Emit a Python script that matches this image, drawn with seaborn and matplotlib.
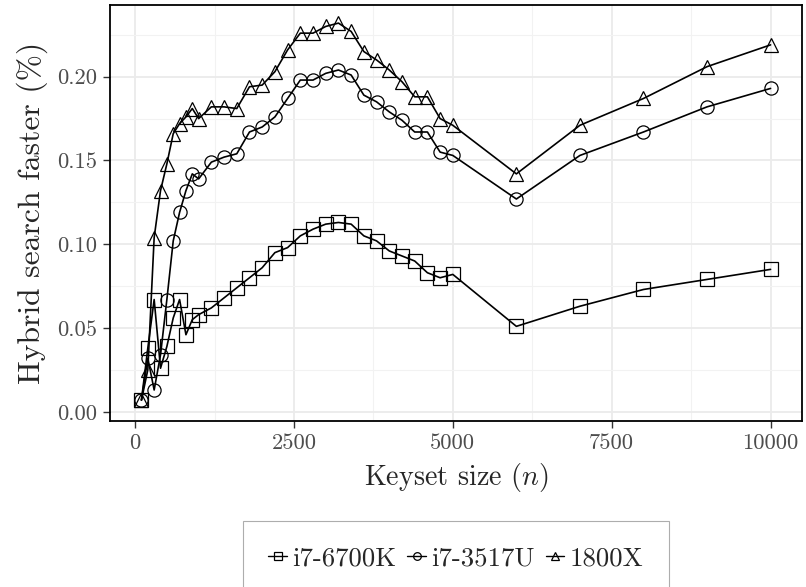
import numpy as np
import pandas as pd
import matplotlib
matplotlib.use("Agg")
import matplotlib.pyplot as plt
import seaborn as sns
from matplotlib.ticker import MultipleLocator, FormatStrFormatter

# ---- data ----
keyset = [100, 200, 300, 400, 500, 600, 700, 800, 900, 1000,
          1200, 1400, 1600, 1800, 2000, 2200, 2400, 2600, 2800, 3000,
          3200, 3400, 3600, 3800, 4000, 4200, 4400, 4600, 4800, 5000,
          6000, 7000, 8000, 9000, 10000]
i7_6700k = [0.007, 0.038, 0.067, 0.026, 0.039, 0.056, 0.067, 0.046, 0.055, 0.058,
            0.062, 0.068, 0.074, 0.080, 0.086, 0.095, 0.098, 0.105, 0.109, 0.112,
            0.113, 0.112, 0.105, 0.102, 0.096, 0.093, 0.090, 0.083, 0.080, 0.082,
            0.051, 0.063, 0.073, 0.079, 0.085]
i7_3517u = [0.007, 0.032, 0.013, 0.034, 0.067, 0.102, 0.119, 0.132, 0.142, 0.139,
            0.149, 0.152, 0.154, 0.167, 0.170, 0.176, 0.187, 0.198, 0.198, 0.202,
            0.204, 0.201, 0.189, 0.185, 0.179, 0.174, 0.167, 0.167, 0.155, 0.153,
            0.127, 0.153, 0.167, 0.182, 0.193]
r_1800x = [0.007, 0.025, 0.104, 0.132, 0.148, 0.166, 0.172, 0.176, 0.181, 0.175,
           0.182, 0.182, 0.181, 0.194, 0.195, 0.203, 0.216, 0.226, 0.226, 0.230,
           0.232, 0.227, 0.215, 0.210, 0.204, 0.197, 0.188, 0.188, 0.175, 0.171,
           0.142, 0.171, 0.187, 0.206, 0.219]
series_names = ["i7-6700K", "i7-3517U", "1800X"]
markers = ["s", "o", "^"]

df = pd.DataFrame({
    "n": keyset * 3,
    "val": i7_6700k + i7_3517u + r_1800x,
    "cpu": [series_names[0]] * len(keyset) + [series_names[1]] * len(keyset)
           + [series_names[2]] * len(keyset),
})

sns.set_theme(style="white")
plt.rcParams["font.family"] = ["cmr10"]
plt.rcParams["mathtext.fontset"] = "cm"
plt.rcParams["axes.unicode_minus"] = False
plt.rcParams["axes.formatter.use_mathtext"] = True

fig = plt.figure(figsize=(8.06, 5.87), dpi=100)
ax = fig.add_axes([110 / 806, 1 - 421 / 587, (802 - 110) / 806, (421 - 5) / 587])

sns.lineplot(data=df, x="n", y="val", style="cpu", markers=dict(zip(series_names, markers)),
             dashes=False, color="black", linewidth=1.2, markersize=9.5,
             markerfacecolor="none", markeredgecolor="black", markeredgewidth=0.9,
             legend=False, ax=ax, zorder=3)

ax.set_xlim(-395, 10495)
ax.set_ylim(-0.0055, 0.2428)
ax.xaxis.set_major_locator(MultipleLocator(2500))
ax.xaxis.set_minor_locator(MultipleLocator(1250))
ax.yaxis.set_major_locator(MultipleLocator(0.05))
ax.yaxis.set_minor_locator(MultipleLocator(0.025))
ax.yaxis.set_major_formatter(FormatStrFormatter("%.2f"))
ax.xaxis.set_major_formatter(FormatStrFormatter("%d"))
ax.grid(which="major", color="#ebebeb", linewidth=1.3)
ax.grid(which="minor", color="#f2f2f2", linewidth=0.8)
ax.set_axisbelow(True)
for s in ax.spines.values():
    s.set_color("black")
    s.set_linewidth(1.3)
ax.tick_params(which="major", direction="out", length=5, width=1.0, color="#333333",
               labelsize=16.3, labelcolor="#4d4d4d", pad=4, bottom=True, left=True)
ax.tick_params(which="minor", length=0)

ax.set_xlabel("Keyset size ($n$)", fontsize=20.3, labelpad=6)
ax.set_ylabel("Hybrid search faster (%)", fontsize=22.8, labelpad=7)

handles = ax.get_lines()[:3]
leg = fig.legend(handles, series_names, loc="upper center",
                 bbox_to_anchor=(456 / 806, 1 - 521 / 587), ncol=3,
                 frameon=True, fontsize=19.3, handlelength=0.7, handletextpad=0.2,
                 columnspacing=0.4, borderpad=0.95, borderaxespad=0, fancybox=False)
leg.get_frame().set_edgecolor("#999999")
leg.get_frame().set_linewidth(0.8)
for h in leg.legend_handles:
    h.set_markersize(5.5)
    h.set_linewidth(1.0)

fig.savefig("out.png", dpi=100)
